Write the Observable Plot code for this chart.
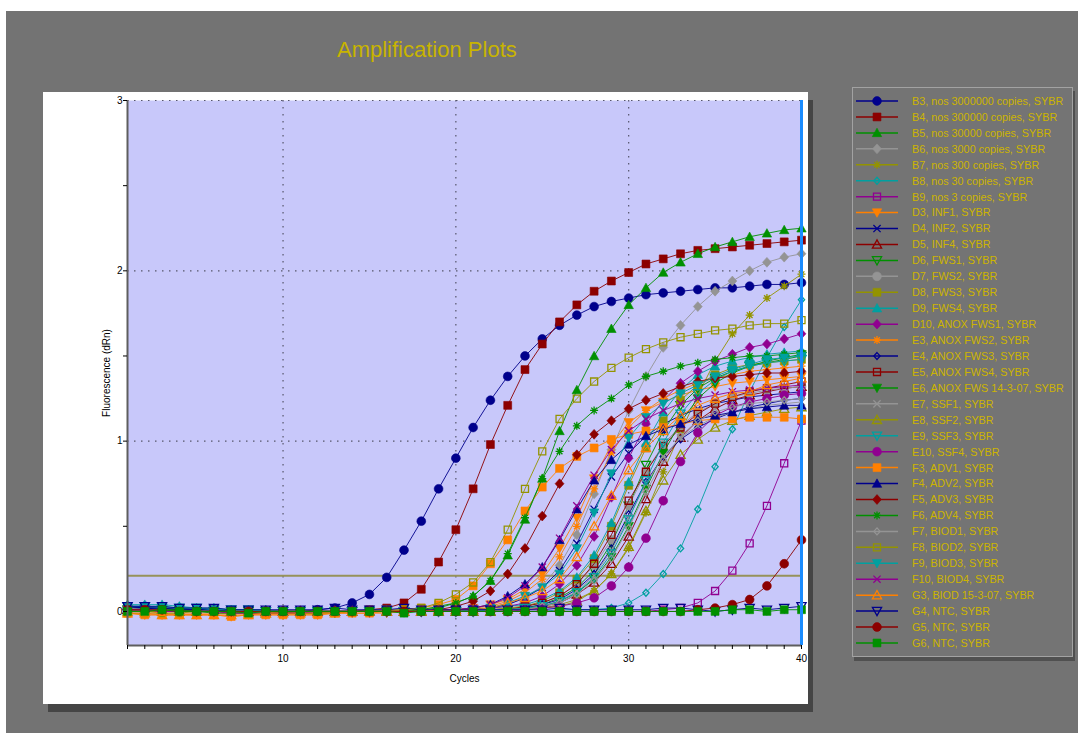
<!DOCTYPE html>
<html>
<head>
<meta charset="utf-8">
<script src="https://cdn.jsdelivr.net/npm/d3@7"></script>
<script src="https://cdn.jsdelivr.net/npm/@observablehq/plot@0.6"></script>
<style>
  html, body { margin: 0; padding: 0; background: #ffffff; width: 1078px; height: 733px; overflow: hidden; }
  body { font-family: "Liberation Sans", Arial, sans-serif; position: relative; }
  #bg { position: absolute; left: 6px; top: 11px; width: 1072px; height: 722px; background: #737373; }
  #title { position: absolute; left: 337px; top: 39px; font-size: 22px; line-height: 22px; color: #c8b400; white-space: nowrap; }
  #panel { position: absolute; left: 43px; top: 92px; width: 765px; height: 612px; background: #ffffff; box-shadow: 5px 8px 0 0 #454545; }
  #legend { position: absolute; left: 852px; top: 87px; width: 219px; height: 568px; border: 1px solid #a2a2a2; background: #747474; box-shadow: 2px 4px 0 0 #505050; }
  #legend text { font-family: "Liberation Sans", Arial, sans-serif; font-size: 10.8px; fill: #cdb400; }
</style>
</head>
<body>
<div id="bg"></div>
<div id="title">Amplification Plots</div>
<div id="panel"></div>
<div id="legend"></div>
<script>
// PCR cycles on the x axis
const cycles = [1,2,3,4,5,6,7,8,9,10,11,12,13,14,15,16,17,18,19,20,21,22,23,24,25,26,27,28,29,30,31,32,33,34,35,36,37,38,39,40];

// Fluorescence (dRn) per well, one value per cycle
const B3 = [0.03,0.03,0.02,0.02,0.01,0.01,0.00,0.00,0.00,0.00, 0.00,0.01,0.02,0.05,0.10,0.20,0.36,0.53,0.72,0.90, 1.08,1.24,1.38,1.50,1.60,1.68,1.74,1.79,1.82,1.84, 1.86,1.87,1.88,1.89,1.90,1.90,1.91,1.92,1.92,1.93];
const B4 = [0.02,0.02,0.02,0.01,0.01,0.01,0.00,0.00,0.00,-0.01, 0.00,0.00,0.00,0.00,0.01,0.02,0.05,0.13,0.29,0.48, 0.72,0.98,1.21,1.42,1.57,1.70,1.80,1.88,1.94,1.99, 2.04,2.07,2.10,2.12,2.13,2.14,2.15,2.16,2.17,2.18];
const B5 = [0.01,0.01,0.01,0.01,0.00,0.00,0.00,0.00,0.00,0.00, 0.00,0.00,0.00,0.00,0.00,0.00,0.01,0.01,0.03,0.05, 0.09,0.18,0.33,0.54,0.78,1.06,1.30,1.50,1.66,1.80, 1.90,1.99,2.05,2.10,2.14,2.17,2.20,2.22,2.24,2.25];
const B6 = [0.02,0.02,0.01,0.01,0.01,0.00,0.00,0.00,0.00,0.00, 0.00,0.00,0.00,0.00,0.00,0.00,0.00,0.00,0.00,0.01, 0.01,0.02,0.04,0.08,0.15,0.27,0.45,0.69,0.95,1.18, 1.38,1.55,1.68,1.79,1.88,1.94,2.00,2.05,2.08,2.10];
const B7 = [0.01,0.01,0.01,0.00,0.00,0.00,0.00,0.00,0.00,0.00, 0.00,0.00,0.00,0.00,0.00,0.00,0.00,0.00,0.00,0.00, 0.00,0.00,0.01,0.01,0.02,0.04,0.07,0.12,0.22,0.37, 0.58,0.82,1.05,1.27,1.47,1.63,1.74,1.84,1.91,1.98];
const B8 = [0.02,0.02,0.01,0.01,0.01,0.00,0.00,0.00,0.00,0.00, 0.00,0.00,0.00,0.00,0.00,0.00,0.00,0.00,0.00,0.00, 0.00,0.00,0.00,0.00,0.00,0.01,0.01,0.01,0.02,0.05, 0.11,0.22,0.37,0.60,0.85,1.07,1.29,1.49,1.67,1.83];
const B9 = [0.01,0.01,0.00,0.00,0.00,0.00,-0.01,0.00,0.00,0.00, 0.00,0.00,0.00,0.00,0.00,0.00,0.00,0.00,0.00,0.00, 0.00,0.00,0.00,0.00,0.00,0.00,0.00,0.00,0.00,0.00, 0.00,0.01,0.02,0.05,0.12,0.24,0.40,0.62,0.87,1.12];
const D3 = [-0.01,-0.02,-0.02,-0.02,-0.02,-0.02,-0.03,-0.02,-0.02,-0.02, -0.02,-0.02,-0.01,-0.01,-0.01,-0.01,0.00,0.00,0.00,0.01, 0.02,0.04,0.07,0.13,0.22,0.37,0.55,0.78,0.98,1.11, 1.18,1.23,1.27,1.30,1.32,1.34,1.35,1.36,1.37,1.38];
const D4 = [0.02,0.02,0.01,0.01,0.01,0.00,0.00,0.00,0.00,0.00, 0.00,0.00,0.00,0.00,0.00,0.00,0.00,0.00,0.01,0.01, 0.01,0.02,0.04,0.08,0.14,0.24,0.40,0.60,0.79,0.93, 1.03,1.10,1.15,1.19,1.22,1.24,1.26,1.27,1.28,1.29];
const D5 = [0.01,0.01,0.01,0.00,0.00,0.00,0.00,0.00,0.00,0.00, 0.00,0.00,0.00,0.00,0.00,0.00,0.00,0.00,0.00,0.00, 0.00,0.00,0.01,0.01,0.03,0.05,0.10,0.17,0.28,0.44, 0.66,0.88,1.02,1.12,1.19,1.24,1.27,1.29,1.31,1.32];
const D6 = [0.01,0.01,0.01,0.01,0.00,0.00,0.00,0.00,0.00,0.00, 0.00,0.00,0.00,0.00,0.00,0.00,0.00,0.00,0.00,0.00, 0.00,0.01,0.01,0.02,0.04,0.08,0.14,0.24,0.40,0.62, 0.86,1.06,1.21,1.31,1.37,1.41,1.44,1.46,1.48,1.50];
const D7 = [0.02,0.01,0.01,0.01,0.01,0.00,0.00,0.00,0.00,0.00, 0.00,0.00,0.00,0.00,0.00,0.00,0.00,0.00,0.00,0.00, 0.00,0.01,0.02,0.03,0.05,0.09,0.16,0.27,0.42,0.62, 0.82,0.98,1.09,1.17,1.22,1.26,1.28,1.30,1.31,1.32];
const D8 = [0.01,0.01,0.00,0.00,0.00,0.00,0.00,0.00,0.00,0.00, 0.00,0.00,0.00,0.00,0.00,0.00,0.00,0.00,0.00,0.00, 0.00,0.01,0.02,0.03,0.06,0.11,0.19,0.31,0.50,0.74, 0.96,1.12,1.24,1.33,1.39,1.43,1.45,1.46,1.47,1.48];
const D9 = [0.04,0.04,0.04,0.03,0.02,0.02,0.01,0.01,0.01,0.00, 0.00,0.00,0.00,0.00,0.00,0.00,0.00,0.00,0.00,0.01, 0.01,0.02,0.03,0.04,0.07,0.12,0.20,0.33,0.52,0.76, 0.99,1.17,1.30,1.39,1.44,1.47,1.49,1.51,1.52,1.53];
const D10 = [0.01,0.01,0.01,0.00,0.00,0.00,0.00,-0.01,-0.01,-0.01, -0.01,-0.01,0.00,0.00,0.00,0.00,0.00,0.00,0.01,0.01, 0.01,0.02,0.03,0.05,0.09,0.16,0.27,0.44,0.67,0.90, 1.10,1.24,1.34,1.41,1.47,1.51,1.55,1.57,1.60,1.63];
const E3 = [0.00,0.00,-0.01,-0.01,-0.01,-0.01,-0.01,-0.01,-0.01,-0.01, -0.01,-0.01,0.00,0.00,0.00,0.00,0.00,0.01,0.01,0.01, 0.02,0.03,0.06,0.11,0.19,0.32,0.50,0.72,0.93,1.08, 1.18,1.25,1.30,1.34,1.37,1.39,1.41,1.42,1.43,1.44];
const E4 = [0.03,0.02,0.02,0.01,0.01,0.01,0.00,0.00,0.00,0.00, 0.00,0.00,0.00,0.00,0.00,0.00,0.00,0.00,0.00,0.00, 0.00,0.01,0.01,0.02,0.04,0.07,0.13,0.22,0.37,0.57, 0.76,0.91,1.01,1.08,1.13,1.17,1.20,1.22,1.24,1.25];
const E5 = [0.01,0.01,0.01,0.00,0.00,0.00,0.00,0.00,0.00,0.00, 0.00,0.00,0.00,0.00,0.00,0.00,0.00,0.00,0.00,0.00, 0.00,0.01,0.01,0.03,0.05,0.09,0.16,0.28,0.45,0.65, 0.82,0.97,1.08,1.16,1.22,1.26,1.29,1.31,1.33,1.35];
const E6 = [0.00,0.00,0.00,0.00,0.00,-0.01,-0.01,-0.01,-0.01,-0.01, -0.01,-0.01,-0.01,0.00,0.00,0.00,0.00,0.00,0.00,0.00, 0.00,0.01,0.01,0.02,0.03,0.06,0.11,0.19,0.32,0.50, 0.72,0.93,1.11,1.25,1.34,1.40,1.44,1.47,1.49,1.51];
const E7 = [0.01,0.01,0.01,0.00,0.00,0.00,0.00,0.00,0.00,0.00, 0.00,0.00,0.00,0.00,0.00,0.00,0.00,0.00,0.00,0.00, 0.00,0.01,0.01,0.02,0.03,0.06,0.12,0.21,0.36,0.55, 0.75,0.91,1.02,1.09,1.14,1.17,1.19,1.21,1.22,1.23];
const E8 = [0.00,0.00,0.00,0.00,0.00,0.00,0.00,-0.01,-0.01,0.00, 0.00,0.00,0.00,0.00,0.00,0.00,0.00,0.00,0.00,0.00, 0.00,0.00,0.01,0.01,0.02,0.03,0.06,0.12,0.22,0.38, 0.59,0.77,0.92,1.01,1.08,1.12,1.15,1.17,1.19,1.20];
const E9 = [0.03,0.03,0.02,0.02,0.02,0.01,0.01,0.01,0.00,0.00, 0.00,0.00,0.00,0.00,0.00,0.00,0.00,0.00,0.00,0.00, 0.00,0.01,0.01,0.02,0.03,0.06,0.11,0.20,0.34,0.54, 0.77,0.99,1.16,1.28,1.36,1.41,1.44,1.46,1.47,1.48];
const E10 = [0.01,0.01,0.00,0.00,0.00,0.00,0.00,0.00,0.00,0.00, 0.00,0.00,0.00,0.00,0.00,0.00,0.00,0.00,0.00,0.00, 0.00,0.00,0.00,0.01,0.02,0.03,0.05,0.08,0.15,0.26, 0.43,0.65,0.88,1.05,1.15,1.20,1.23,1.25,1.27,1.28];
const F3 = [-0.01,-0.02,-0.02,-0.02,-0.02,-0.02,-0.03,-0.02,-0.02,-0.02, -0.02,-0.02,-0.01,-0.01,-0.01,0.00,0.01,0.02,0.04,0.07, 0.15,0.28,0.42,0.59,0.73,0.84,0.91,0.96,1.01,1.04, 1.06,1.08,1.10,1.12,1.13,1.13,1.14,1.14,1.14,1.13];
const F4 = [0.03,0.02,0.02,0.01,0.01,0.01,0.00,0.00,0.00,0.00, 0.00,0.00,0.00,0.00,0.00,0.00,0.00,0.00,0.01,0.01, 0.02,0.04,0.09,0.16,0.26,0.42,0.60,0.77,0.89,0.98, 1.03,1.07,1.10,1.13,1.15,1.17,1.19,1.20,1.21,1.21];
const F5 = [0.01,0.01,0.01,0.00,0.00,0.00,0.00,0.00,0.00,0.00, 0.00,0.00,0.00,0.00,0.00,0.00,0.00,0.00,0.01,0.03, 0.06,0.12,0.22,0.37,0.56,0.75,0.92,1.04,1.12,1.19, 1.24,1.28,1.32,1.35,1.37,1.38,1.39,1.40,1.40,1.41];
const F6 = [0.01,0.01,0.01,0.01,0.00,0.00,0.00,0.00,0.00,0.00, 0.00,0.00,0.00,0.00,0.00,0.00,0.00,0.01,0.02,0.05, 0.09,0.18,0.34,0.55,0.78,0.94,1.09,1.18,1.25,1.33, 1.38,1.41,1.44,1.46,1.48,1.49,1.50,1.50,1.51,1.52];
const F7 = [0.01,0.01,0.01,0.00,0.00,0.00,0.00,0.00,0.00,0.00, 0.00,0.00,0.00,0.00,0.00,0.00,0.00,0.00,0.00,0.00, 0.00,0.00,0.01,0.01,0.03,0.05,0.10,0.18,0.31,0.49, 0.70,0.89,1.03,1.12,1.17,1.20,1.22,1.23,1.24,1.25];
const F8 = [-0.01,-0.01,-0.01,-0.01,0.00,0.00,0.00,0.00,0.00,0.00, 0.00,0.00,0.00,0.00,0.00,0.01,0.01,0.02,0.05,0.10, 0.17,0.29,0.48,0.72,0.94,1.13,1.25,1.35,1.43,1.49, 1.54,1.58,1.61,1.63,1.65,1.66,1.68,1.69,1.69,1.71];
const F9 = [0.03,0.03,0.03,0.02,0.02,0.01,0.01,0.01,0.00,0.00, 0.00,0.00,0.00,0.00,0.00,0.00,0.00,0.00,0.00,0.00, 0.01,0.02,0.05,0.09,0.14,0.22,0.37,0.58,0.81,1.02, 1.14,1.22,1.28,1.33,1.38,1.42,1.45,1.48,1.49,1.50];
const F10 = [0.01,0.01,0.00,0.00,0.00,0.00,-0.01,-0.01,-0.01,-0.01, -0.01,0.00,0.00,0.00,0.00,0.00,0.00,0.00,0.01,0.01, 0.02,0.04,0.08,0.15,0.26,0.43,0.62,0.80,0.95,1.06, 1.13,1.18,1.22,1.25,1.27,1.29,1.30,1.31,1.32,1.33];
const G3 = [-0.01,-0.01,-0.02,-0.02,-0.02,-0.02,-0.02,-0.02,-0.01,-0.01, -0.01,-0.01,-0.01,0.00,0.00,0.00,0.00,0.00,0.01,0.01, 0.01,0.02,0.05,0.08,0.12,0.19,0.32,0.50,0.68,0.83, 0.96,1.06,1.15,1.21,1.25,1.28,1.29,1.33,1.35,1.37];
const G4 = [0.03,0.03,0.03,0.02,0.02,0.02,0.01,0.01,0.01,0.01, 0.01,0.01,0.02,0.01,0.01,0.01,0.02,0.01,0.01,0.01, 0.01,0.01,0.01,0.01,0.01,0.02,0.01,0.01,0.01,0.01, 0.01,0.02,0.02,0.01,0.00,0.01,0.02,0.01,0.02,0.03];
const G5 = [0.01,0.01,0.01,0.00,0.00,0.00,0.00,0.00,0.00,0.00, 0.00,0.00,0.00,0.00,0.00,0.00,0.00,0.00,0.00,0.00, 0.00,0.00,0.00,0.00,0.00,0.00,0.00,0.00,0.00,0.00, 0.00,0.00,0.00,0.01,0.02,0.04,0.07,0.15,0.28,0.42];
const G6 = [0.00,0.00,0.01,0.00,0.00,0.00,0.00,-0.01,0.00,0.00, 0.00,0.00,0.00,0.00,0.00,0.00,-0.01,0.00,0.00,0.00, 0.00,0.00,0.00,0.00,0.00,0.00,0.00,0.00,0.00,0.00, 0.00,0.00,0.00,0.00,0.00,0.01,0.01,0.00,0.01,0.01];

// Well names shown in the legend
const wellLabels = [
  "B3, nos 3000000 copies, SYBR", "B4, nos 300000 copies, SYBR", "B5, nos 30000 copies, SYBR",
  "B6, nos 3000 copies, SYBR", "B7, nos 300 copies, SYBR", "B8, nos 30 copies, SYBR",
  "B9, nos 3 copies, SYBR", "D3, INF1, SYBR", "D4, INF2, SYBR", "D5, INF4, SYBR",
  "D6, FWS1, SYBR", "D7, FWS2, SYBR", "D8, FWS3, SYBR", "D9, FWS4, SYBR",
  "D10, ANOX FWS1, SYBR", "E3, ANOX FWS2, SYBR", "E4, ANOX FWS3, SYBR", "E5, ANOX FWS4, SYBR",
  "E6, ANOX FWS 14-3-07, SYBR", "E7, SSF1, SYBR", "E8, SSF2, SYBR", "E9, SSF3, SYBR",
  "E10, SSF4, SYBR", "F3, ADV1, SYBR", "F4, ADV2, SYBR", "F5, ADV3, SYBR", "F6, ADV4, SYBR",
  "F7, BIOD1, SYBR", "F8, BIOD2, SYBR", "F9, BIOD3, SYBR", "F10, BIOD4, SYBR",
  "G3, BIOD 15-3-07, SYBR", "G4, NTC, SYBR", "G5, NTC, SYBR", "G6, NTC, SYBR"
];
const wellValues = [B3,B4,B5,B6,B7,B8,B9,D3,D4,D5,D6,D7,D8,D9,D10,E3,E4,E5,E6,E7,E8,E9,E10,F3,F4,F5,F6,F7,F8,F9,F10,G3,G4,G5,G6];

// Threshold and axis ticks
const threshold = [0.21];
const yTicks = [0, 0.5, 1, 1.5, 2, 2.5, 3];
const yGrid = [1, 2, 3];
const xGrid = [10, 20, 30];

// Styles: colours cycle every 8 wells, marker shapes every 11
const palette = ["#00008c", "#8c0000", "#009000", "#949494", "#939300", "#00a0a0", "#900090", "#ff8000"];
const rad = a => Math.sqrt(a / Math.PI);
const shapes = {
  circle: {draw(c, a) { const r = rad(a); c.moveTo(r, 0); c.arc(0, 0, r, 0, 2 * Math.PI); }},
  square: {draw(c, a) { const r = rad(a) * 0.9; c.rect(-r, -r, 2 * r, 2 * r); }},
  triUp: {draw(c, a) { const r = rad(a) * 1.15; c.moveTo(0, -r); c.lineTo(r, r * 0.8); c.lineTo(-r, r * 0.8); c.closePath(); }},
  triDown: {draw(c, a) { const r = rad(a) * 1.15; c.moveTo(0, r); c.lineTo(r, -r * 0.8); c.lineTo(-r, -r * 0.8); c.closePath(); }},
  diamond: {draw(c, a) { const r = rad(a) * 1.2; c.moveTo(0, -r); c.lineTo(r * 0.9, 0); c.lineTo(0, r); c.lineTo(-r * 0.9, 0); c.closePath(); }},
  star: {draw(c, a) { const r = rad(a), d = r * 0.72; c.moveTo(0, -r); c.lineTo(0, r); c.moveTo(-r, 0); c.lineTo(r, 0); c.moveTo(-d, -d); c.lineTo(d, d); c.moveTo(-d, d); c.lineTo(d, -d); }},
  cross: {draw(c, a) { const r = rad(a) * 0.9; c.moveTo(-r, -r); c.lineTo(r, r); c.moveTo(-r, r); c.lineTo(r, -r); }}
};
const markerKinds = [
  {shape: "circle", filled: true, r: 4.4},
  {shape: "square", filled: true, r: 4.4},
  {shape: "triUp", filled: true, r: 4.1},
  {shape: "diamond", filled: true, r: 4.1},
  {shape: "star", filled: false, r: 4},
  {shape: "diamond", filled: false, r: 2.9},
  {shape: "square", filled: false, r: 3.9},
  {shape: "triDown", filled: true, r: 4.1},
  {shape: "cross", filled: false, r: 4},
  {shape: "triUp", filled: false, r: 4},
  {shape: "triDown", filled: false, r: 4}
];
const wellStyle = i => ({color: palette[i % 8], ...markerKinds[i % 11]});

// Curves: one line and one set of markers per well
const curveMarks = [];
wellValues.forEach((vals, i) => {
  const st = wellStyle(i);
  const rows = cycles.map((c, j) => ({cycle: c, dRn: vals[j]}));
  curveMarks.push(Plot.line(rows, {x: "cycle", y: "dRn", stroke: st.color, strokeWidth: 1, strokeOpacity: 0.9}));
  curveMarks.push(Plot.dot(rows, {
    x: "cycle", y: "dRn", r: st.r, symbol: shapes[st.shape],
    fill: st.filled ? st.color : "none",
    stroke: st.color, strokeWidth: st.filled ? 0.6 : 1.3
  }));
});

const chart = Plot.plot({
  width: 765,
  height: 612,
  marginLeft: 84,
  marginRight: 7,
  marginTop: 8,
  marginBottom: 59,
  style: {background: "#ffffff", fontFamily: "Liberation Sans, Arial, sans-serif", fontSize: "10px", color: "#000"},
  x: {domain: [1, 40]},
  y: {domain: [-0.2, 3]},
  marks: [
    Plot.frame({fill: "#c8c8fa", stroke: null}),
    Plot.ruleX(xGrid, {stroke: "#55556a", strokeWidth: 1.2, strokeDasharray: "1.5,5.5"}),
    Plot.ruleY(yGrid, {stroke: "#55556a", strokeWidth: 1.2, strokeDasharray: "1.5,5.5"}),
    Plot.ruleY(threshold, {stroke: "#96925a", strokeWidth: 2}),
    ...curveMarks,
    Plot.ruleX([40], {stroke: "#1a8cff", strokeWidth: 3}),
    Plot.ruleX([1], {stroke: "#5e5e5e", strokeWidth: 2}),
    Plot.ruleY([-0.2], {stroke: "#5e5e5e", strokeWidth: 2}),
    Plot.axisX({
      ticks: cycles, tickSize: 4, tickPadding: 5,
      tickFormat: d => (d % 10 === 0 ? String(d) : ""),
      label: "Cycles", labelAnchor: "center", labelArrow: "none", labelOffset: 36
    }),
    Plot.axisY({
      ticks: yTicks, tickSize: 4, tickPadding: 1,
      tickFormat: d => (Number.isInteger(d) ? String(d) : ""),
      label: "Fluorescence (dRn)", labelAnchor: "center", labelArrow: "none", labelOffset: 25
    })
  ]
});
document.getElementById("panel").appendChild(chart);

// Legend: line sample, marker and well name for each curve
const legend = d3.select("#legend").append("svg").attr("width", 219).attr("height", 568);
wellLabels.forEach((label, i) => {
  const st = wellStyle(i);
  const g = legend.append("g").attr("transform", `translate(0,${13 + i * 15.94})`);
  g.append("line").attr("x1", 3).attr("x2", 45).attr("y1", 0).attr("y2", 0)
    .attr("stroke", st.color).attr("stroke-width", 1.5);
  g.append("path").attr("transform", "translate(24,0)")
    .attr("d", d3.symbol(shapes[st.shape], st.r * st.r * Math.PI)())
    .attr("fill", st.filled ? st.color : "none")
    .attr("stroke", st.color).attr("stroke-width", st.filled ? 0.6 : 1.3);
  g.append("text").attr("x", 59).attr("y", 0).attr("dy", "0.36em").text(label);
});
</script>
</body>
</html>
